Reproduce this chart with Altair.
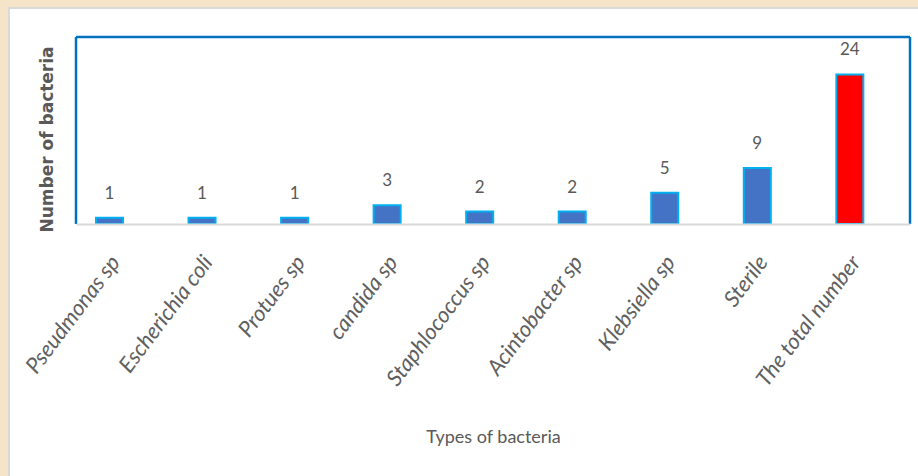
import altair as alt
import pandas as pd

# Bacteria isolated and their counts
categories = [
    "Pseudmonas sp", "Escherichia coli", "Protues sp", "candida sp",
    "Staphlococcus sp", "Acintobacter sp", "Klebsiella sp", "Sterile",
    "The total number",
]
counts = [1, 1, 1, 3, 2, 2, 5, 9, 24]
bar_colors = ["#4472C4"] * 8 + ["#FF0000"]

df = pd.DataFrame({"type": categories, "count": counts, "color": bar_colors})

W, H = 834, 187

x_enc = alt.X(
    "type:N",
    sort=categories,
    scale=alt.Scale(paddingInner=0.708, paddingOuter=0.36, align=0.3),
    axis=alt.Axis(
        title="Types of bacteria",
        titleFont="Lato",
        titleFontSize=18,
        titleFontWeight="normal",
        titleColor="#595959",
        titleBaseline="alphabetic",
        titleY=218,
        labelFont="Lato",
        labelFontStyle="italic",
        labelFontSize=22,
        labelColor="#606060",
        labelAngle=307,
        labelAlign="right",
        labelBaseline="middle",
        labelPadding=34,
        labelOffset=6,
        ticks=False,
        domainColor="#d9d9d9",
        domainWidth=2,
        zindex=2,
    ),
)

y_enc = alt.Y(
    "count:Q",
    scale=alt.Scale(domain=[0, 30], nice=False),
    axis=alt.Axis(
        title="Number of bacteria",
        titleFont="DejaVu Sans",
        titleFontSize=17,
        titleFontWeight="bold",
        titleColor="#595959",
        titleAngle=270,
        titleAlign="center",
        titleBaseline="middle",
        titleX=-29,
        titleY=102,
        labels=False,
        ticks=False,
        grid=False,
        domain=False,
        zindex=2,
    ),
)

one = pd.DataFrame({"p": [0]})

# White chart panel with a light grey edge
panel = alt.Chart(one).mark_rect(
    fill="white", stroke="#d9d9d9", strokeWidth=2
).encode(
    x=alt.value(-67), x2=alt.value(W + 60),
    y=alt.value(-29), y2=alt.value(H + 280),
)

# Blue plot-area frame: top, left and right edges
frame_style = dict(color="#0070C0", strokeWidth=2.5)
frame_top = alt.Chart(one).mark_rule(**frame_style).encode(
    x=alt.value(0), x2=alt.value(W), y=alt.value(0)
)
frame_left = alt.Chart(one).mark_rule(**frame_style).encode(
    x=alt.value(0), y=alt.value(0), y2=alt.value(H)
)
frame_right = alt.Chart(one).mark_rule(**frame_style).encode(
    x=alt.value(W), y=alt.value(0), y2=alt.value(H)
)

bars = alt.Chart(df).mark_bar(stroke="#00B0F0", strokeWidth=2).encode(
    x=x_enc,
    y=y_enc,
    fill=alt.Fill("color:N", scale=None),
)

labels = alt.Chart(df).mark_text(
    dy=-24, baseline="middle", font="Lato", fontSize=17, color="#595959"
).encode(
    x=alt.X("type:N", sort=categories),
    y="count:Q",
    text="count:Q",
)

chart = alt.layer(panel, frame_top, frame_left, frame_right, bars, labels).properties(
    width=W,
    height=H,
    autosize=alt.AutoSizeParams(type="none"),
    padding={"left": 76, "top": 37, "right": 8, "bottom": 252},
    background="#f5e4c8",
).configure_view(
    strokeWidth=0
)

chart.save("out.html", embed_options={"renderer": "svg", "actions": False})
